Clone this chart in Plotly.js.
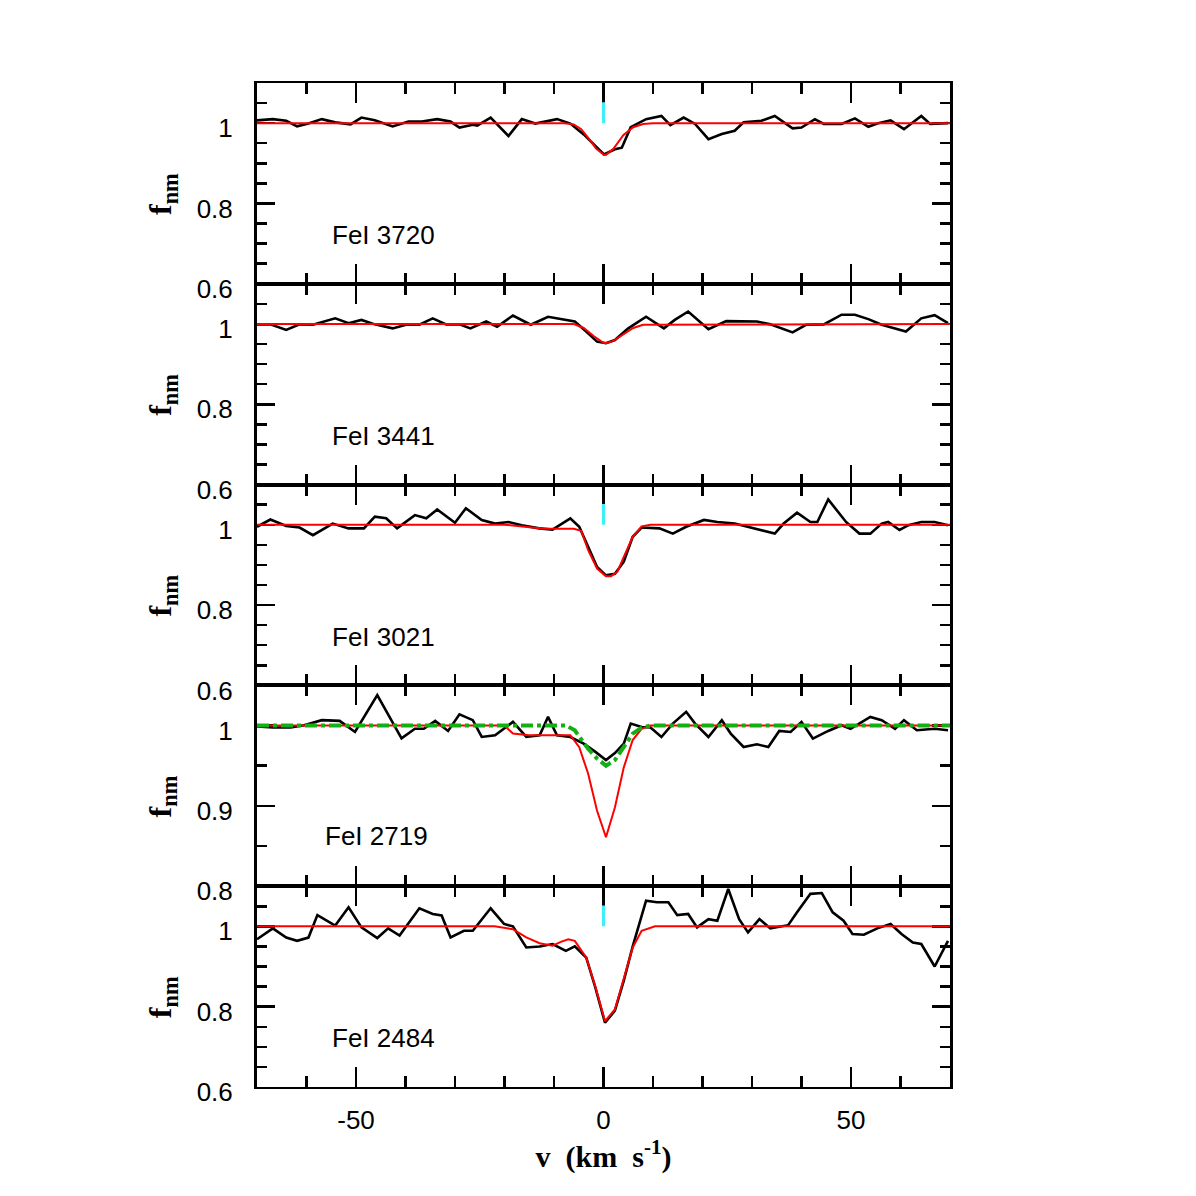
<!DOCTYPE html>
<html>
<head>
<meta charset="utf-8">
<script src="https://cdn.plot.ly/plotly-3.0.1.min.js"></script>
<style>
  html, body { margin: 0; padding: 0; background: #fff; }
  #chart { width: 1196px; height: 1196px; }
</style>
</head>
<body>
<div id="chart"></div>
<script>
// Normalised Fe I profiles in velocity space, one panel per transition.

const lineNames = ["FeI 3720", "FeI 3441", "FeI 3021", "FeI 2719", "FeI 2484"];

// Velocity-axis labels (plain hyphen for the negative value)
const velTickVals = [-50, 0, 50];
const velTickText = ["-50", "0", "50"];

// --- FeI 3720 ---
const vel3720 = [-70, -66.8, -64.1, -61.9, -59.6, -56.9, -54.2, -51.1, -48.9, -46.2, -42.6, -39.4, -36.7, -33.6, -30.9, -29.1, -26.4, -25.5, -22.8, -19.2, -16.5, -13.8, -9.4, -6.7, -4.0, -1.7, 0.1, 2.3, 3.7, 5.5, 8.6, 11.7, 13.5, 16.2, 18.5, 21.2, 23.9, 26.5, 28.3, 31.9, 34.6, 38.2, 40.0, 42.7, 44.5, 48.1, 50.8, 53.5, 55.3, 58.0, 60.7, 64.2, 66.0, 69.6];
const flux3720 = [1.007, 1.010, 1.006, 0.992, 0.999, 1.010, 1.002, 0.997, 1.014, 1.007, 0.992, 1.004, 1.004, 1.010, 1.004, 0.989, 0.996, 0.994, 1.014, 0.968, 1.010, 0.999, 1.010, 0.999, 0.972, 0.943, 0.922, 0.935, 0.939, 0.990, 1.010, 1.018, 0.995, 1.014, 0.998, 0.960, 0.973, 0.981, 1.002, 1.006, 1.018, 0.987, 0.989, 1.010, 0.998, 0.998, 1.012, 0.991, 0.999, 1.007, 0.985, 1.018, 0.998, 1.000];
const modelVel3720 = [-70, -8, -6, -4.5, -3, -1.5, 0, 0.5, 2, 4, 6, 8, 10, 70];
const model3720 = [1, 1, 0.997, 0.985, 0.962, 0.937, 0.922, 0.921, 0.936, 0.970, 0.990, 0.998, 1, 1];

// --- FeI 3441 ---
const vel3441 = [-70, -67.3, -64.1, -61.4, -58.7, -54.2, -51.5, -48.9, -46.2, -42.6, -39.9, -37.2, -34.5, -31.8, -29.1, -26.9, -23.7, -21.5, -18.3, -14.7, -11.2, -7.6, -5.8, -3.5, -1.3, 0.5, 2.3, 5.0, 8.6, 12.2, 14.4, 17.1, 21.2, 24.8, 28.3, 31.0, 33.7, 38.2, 40.9, 44.5, 48.1, 50.8, 53.5, 56.2, 58.9, 61.1, 64.2, 66.9, 69.6];
const flux3441 = [0.999, 0.999, 0.985, 0.999, 0.998, 1.014, 1.002, 1.010, 0.999, 0.989, 0.998, 0.998, 1.014, 0.999, 0.999, 0.989, 1.006, 0.993, 1.021, 0.998, 1.018, 1.010, 1.006, 0.981, 0.956, 0.952, 0.960, 0.989, 1.018, 0.989, 1.010, 1.031, 0.987, 1.007, 1.006, 1.006, 0.999, 0.979, 0.998, 0.999, 1.023, 1.023, 1.012, 0.998, 0.989, 0.981, 1.014, 1.022, 1.002];
const modelVel3441 = [-70, -6, -4, -2, 0, 0.5, 2, 4, 6, 8, 70];
const model3441 = [1, 1, 0.990, 0.970, 0.953, 0.952, 0.958, 0.975, 0.990, 0.998, 1];

// --- FeI 3021 ---
const vel3021 = [-70, -67.3, -64.1, -61.4, -58.7, -54.7, -51.5, -48.4, -46.2, -43.9, -41.7, -38.1, -35.8, -33.6, -30.0, -27.8, -24.6, -21.9, -19.2, -16.5, -13.0, -10.3, -6.7, -4.9, -3.1, -1.3, 0.5, 2.3, 4.1, 5.9, 7.7, 11.3, 14.0, 16.7, 20.3, 23.0, 26.5, 29.2, 31.9, 34.6, 36.4, 39.1, 41.8, 43.2, 45.4, 49.0, 51.7, 53.9, 56.2, 57.5, 59.8, 61.6, 64.2, 66.9, 69.6];
const flux3021 = [0.995, 1.013, 0.997, 0.993, 0.974, 1.003, 0.991, 0.991, 1.020, 1.016, 0.991, 1.024, 1.016, 1.038, 1.005, 1.041, 1.012, 1.003, 1.007, 0.999, 0.991, 0.988, 1.016, 0.995, 0.945, 0.895, 0.874, 0.878, 0.908, 0.970, 0.993, 0.991, 0.978, 0.995, 1.012, 1.007, 1.003, 0.995, 0.987, 0.978, 1.003, 1.030, 1.007, 1.007, 1.063, 1.007, 0.978, 0.978, 1.003, 1.007, 0.987, 0.999, 1.007, 1.007, 0.999];
const modelVel3021 = [-70, -20, -12, -6, -4.5, -3.1, -1.3, 0.5, 1.5, 2.8, 4.1, 5.9, 7.7, 9.5, 70];
const model3021 = [1, 1, 0.990, 0.990, 0.985, 0.937, 0.891, 0.872, 0.872, 0.883, 0.920, 0.970, 0.996, 1, 1];

// --- FeI 2719 ---
const vel2719 = [-70, -66.8, -63.2, -60.5, -56.9, -53.3, -50.2, -45.7, -40.8, -38.1, -36.3, -34.0, -31.4, -29.1, -26.4, -24.6, -21.9, -18.3, -15.6, -12.9, -11.2, -9.4, -6.7, -4.0, -1.7, 0.5, 2.3, 4.1, 5.5, 7.7, 9.5, 11.7, 14.0, 16.7, 18.5, 21.2, 23.9, 25.7, 28.3, 31.0, 33.3, 35.5, 37.8, 40.0, 42.3, 45.4, 48.1, 49.9, 53.9, 56.2, 58.9, 60.7, 63.3, 66.9, 69.6];
const flux2719 = [0.999, 0.9975, 0.9975, 1.0004, 1.0067, 1.0058, 0.992, 1.038, 0.984, 0.996, 0.996, 1.0058, 0.9933, 1.014, 1.0067, 0.9858, 0.9879, 1.0046, 0.9858, 0.9879, 1.0108, 0.9879, 0.9858, 0.9775, 0.9675, 0.957, 0.9658, 0.9775, 1.0025, 0.9983, 0.9975, 0.9858, 1.0025, 1.0171, 1.0025, 0.9858, 1.0067, 0.990, 0.9733, 0.9767, 0.9733, 0.9933, 0.992, 1.0046, 0.9838, 0.9933, 1.0004, 0.996, 1.0108, 1.0067, 0.996, 1.0067, 0.9942, 0.996, 0.9942];
const modelVel2719 = [-70, -20, -18.3, -15, -6.7, -4.9, -3.1, -1.3, 0.5, 2.3, 4.1, 5.9, 7.7, 9.5, 70];
const model2719 = [1, 1, 0.990, 0.988, 0.988, 0.973, 0.940, 0.894, 0.861, 0.898, 0.948, 0.982, 0.996, 1, 1];
const altVel2719 = [-70, -7.5, -5.8, -3.1, -1.3, 0.5, 2.3, 4.1, 5.9, 7.7, 9.5, 70];
const alt2719 = [1, 1, 0.994, 0.971, 0.959, 0.950, 0.957, 0.973, 0.990, 0.9975, 1, 1];

// --- FeI 2484 ---
const vel2484 = [-70, -66.8, -64.1, -61.9, -59.6, -57.8, -54.2, -51.5, -48.9, -45.7, -43.5, -41.2, -37.2, -34.5, -32.7, -30.9, -28.2, -26.4, -22.8, -20.1, -18.3, -15.6, -12.9, -10.3, -7.6, -5.8, -3.5, -1.7, 0.3, 2.3, 4.1, 5.9, 8.6, 10.8, 13.1, 14.9, 17.1, 18.9, 21.2, 23.0, 25.2, 27.4, 29.2, 31.5, 33.7, 37.3, 39.1, 41.8, 44.1, 46.3, 48.5, 50.3, 52.6, 55.3, 58.0, 60.2, 62.5, 64.2, 66.9, 69.6];
const flux2484 = [0.968, 0.995, 0.972, 0.964, 0.972, 1.028, 1.002, 1.0475, 0.9975, 0.971, 0.995, 0.977, 1.045, 1.031, 1.027, 0.9725, 0.989, 0.989, 1.045, 1.006, 1.000, 0.9475, 0.950, 0.956, 0.939, 0.950, 0.9225, 0.850, 0.760, 0.790, 0.865, 0.950, 1.064, 1.060, 1.060, 1.028, 1.031, 0.9975, 1.018, 1.014, 1.093, 1.018, 0.985, 1.018, 0.995, 1.003, 1.035, 1.081, 1.083, 1.035, 1.014, 0.981, 0.979, 0.995, 1.006, 0.981, 0.960, 0.956, 0.900, 0.964];
const modelVel2484 = [-70, -22, -18.3, -15.6, -12.9, -10.3, -8.5, -7.1, -5.8, -3.5, -1.7, 0.3, 2.3, 4.1, 5.9, 7.7, 10.4, 70];
const model2484 = [1, 1, 0.993, 0.9725, 0.958, 0.952, 0.962, 0.968, 0.964, 0.9225, 0.852, 0.764, 0.793, 0.868, 0.9475, 0.989, 1, 1];

// Line-centre marks (drawn in panels 1, 3 and 5)
const markVel = [0, 0];
const markFlux = [1.0, 1.052];

const panelData = [
  { v: vel3720, f: flux3720, mv: modelVel3720, m: model3720, mark: true },
  { v: vel3441, f: flux3441, mv: modelVel3441, m: model3441, mark: false },
  { v: vel3021, f: flux3021, mv: modelVel3021, m: model3021, mark: true },
  { v: vel2719, f: flux2719, mv: modelVel2719, m: model2719, mark: false, av: altVel2719, a: alt2719 },
  { v: vel2484, f: flux2484, mv: modelVel2484, m: model2484, mark: true }
];

const yRanges = [[0.6, 1.1], [0.6, 1.1], [0.6, 1.1], [0.8, 1.05], [0.6, 1.1]];
const yMajor = [0.2, 0.2, 0.2, 0.1, 0.2];
const labelPos = [[-55.3, 0.722], [-55.3, 0.722], [-55.3, 0.720], [-56.7, 0.862], [-55.3, 0.723]];

const tickFont = { family: "Liberation Sans, Arial, sans-serif", size: 26, color: "#000" };

const traces = [];
const layout = {
  width: 1196, height: 1196,
  margin: { l: 257, r: 246, t: 83, b: 109 },
  paper_bgcolor: "#fff", plot_bgcolor: "#fff",
  showlegend: false,
  annotations: []
};

const n = panelData.length;
const plotH = 1196 - 83 - 109;

panelData.forEach((p, i) => {
  const k = i + 1;
  const xs = k === 1 ? "x" : "x" + k;
  const ys = k === 1 ? "y" : "y" + k;
  traces.push({ x: p.v, y: p.f, xaxis: xs, yaxis: ys, mode: "lines",
    line: { color: "#000", width: 2.6 }, hoverinfo: "skip" });
  traces.push({ x: p.mv, y: p.m, xaxis: xs, yaxis: ys, mode: "lines",
    line: { color: "rgb(255,0,0)", width: 2 }, hoverinfo: "skip" });
  if (p.av) {
    traces.push({ x: p.av, y: p.a, xaxis: xs, yaxis: ys, mode: "lines",
      line: { color: "rgb(20,175,20)", width: 4, dash: "dashdot" }, hoverinfo: "skip" });
  }
  if (p.mark) {
    traces.push({ x: markVel, y: markFlux, xaxis: xs, yaxis: ys, mode: "lines",
      line: { color: "rgb(60,240,250)", width: 3 }, hoverinfo: "skip" });
  }

  const top = 1 - i / n;
  const bottom = 1 - (i + 1) / n;
  const last = (k === n);

  layout["xaxis" + (k === 1 ? "" : k)] = {
    domain: [0, 1], anchor: ys, range: [-70, 70], layer: "below traces",
    showline: true, linecolor: "#000", linewidth: 2, mirror: "ticks",
    ticks: "inside", tickmode: "array", tickvals: velTickVals, ticktext: velTickText,
    ticklen: 20, tickwidth: 2.5, tickcolor: "#000",
    minor: { ticks: "inside", dtick: 10, tick0: 0, ticklen: 11, tickwidth: 2.5, tickcolor: "#000" },
    showgrid: false, zeroline: false,
    showticklabels: last, tickfont: tickFont, ticklabelstandoff: 9,
    title: last ? { text: "<b>v&nbsp;&nbsp;(km&nbsp;&nbsp;s<sup>-1</sup>)</b>",
      font: { family: "Liberation Serif, Times New Roman, serif", size: 30, color: "#000" }, standoff: 4 } : undefined
  };

  layout["yaxis" + (k === 1 ? "" : k)] = {
    domain: [bottom, top], anchor: xs, range: yRanges[i], layer: "below traces",
    showline: true, linecolor: "#000", linewidth: 3, mirror: "ticks",
    ticks: "inside", tickmode: "linear", tick0: yRanges[i][0], dtick: yMajor[i],
    ticklen: 18, tickwidth: 2.5, tickcolor: "#000",
    minor: { ticks: "inside", dtick: 0.05, tick0: yRanges[i][0], ticklen: 10, tickwidth: 2.5, tickcolor: "#000" },
    showgrid: false, zeroline: false,
    tickfont: tickFont, ticklabelstandoff: 16, ticklabelshift: 5
  };

  layout.annotations.push({
    xref: xs, yref: ys, x: labelPos[i][0], y: labelPos[i][1],
    xanchor: "left", yanchor: "middle", showarrow: false,
    text: lineNames[i],
    font: { family: "Liberation Sans, Arial, sans-serif", size: 26, color: "#000" }
  });

  const titleY = 194.5 + i * (plotH / n);
  layout.annotations.push({
    xref: "paper", yref: "paper",
    x: (162.5 - 257) / (1196 - 257 - 246), y: 1 - (titleY - 83) / plotH,
    xanchor: "center", yanchor: "middle", showarrow: false, textangle: -90,
    text: "<b>f<sub>nm</sub></b>",
    font: { family: "Liberation Serif, Times New Roman, serif", size: 32, color: "#000" }
  });
});

Plotly.newPlot("chart", traces, layout, { staticPlot: true, displayModeBar: false });
</script>
</body>
</html>
